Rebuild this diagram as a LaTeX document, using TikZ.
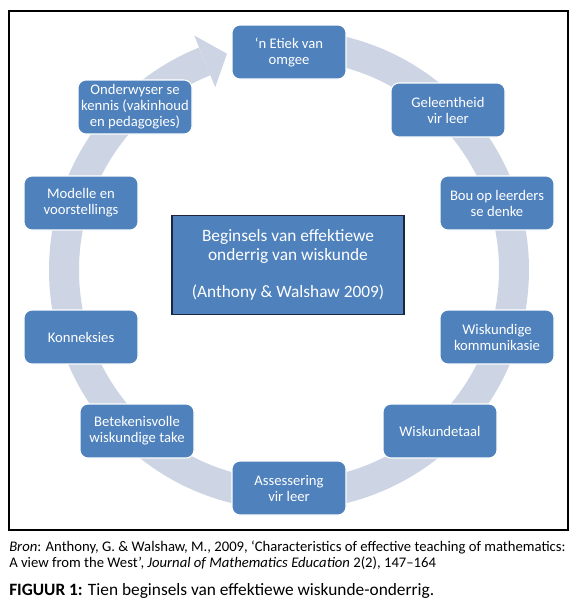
\documentclass[tikz,border=0pt]{standalone}
\usepackage{fontspec}
\setmainfont{Carlito}
\usetikzlibrary{calc}
\definecolor{boxblue}{RGB}{79,129,189}
\definecolor{ringgrey}{RGB}{205,213,228}
\definecolor{navy}{RGB}{28,38,64}
\tikzset{
  card/.style={draw=white, line width=0.8pt, rounded corners=6pt, fill=boxblue, text=white, minimum width=85.5pt, minimum height=40.5pt, align=center, inner sep=1pt, font=\fontsize{11}{12}\selectfont},
  core/.style={draw=navy, line width=1.1pt, fill=boxblue, text=white, minimum width=174pt, minimum height=74pt, align=center, font=\fontsize{13}{14}\selectfont},
  band/.style={line width=22.5pt, draw=ringgrey},
  note/.style={anchor=west, align=left, inner sep=0pt}
}

\begin{document}
\begin{tikzpicture}[x=0.75pt, y=-0.75pt]
  \useasboundingbox (0,0) rectangle (575,604);
  \draw[line width=1.1pt] (9,11) rectangle (568,530);

  % ring with arrow head
  \coordinate (c) at (289,270);
  \draw[band] ([shift={(-85:225)}]c) arc[start angle=-85, end angle=248, radius=225];
  \fill[ringgrey] ([shift={(248:197)}]c) -- ([shift={(254:225)}]c) -- ([shift={(248:253)}]c) -- cycle;

  \node[core] (mid) at (288,265) {Beginsels van effektiewe\\onderrig van wiskunde\\[14pt](Anthony \& Walshaw 2009)};

  \node[card] (a) at (289,52)  {‘n Etiek van\\omgee};
  \node[card] (b) at (448,110) {Geleentheid\\vir leer};
  \node[card] (c1) at (497,203) {Bou op leerders\\se denke};
  \node[card] (d) at (497,337) {Wiskundige\\kommunikasie};
  \node[card] (e) at (440,431) {Wiskundetaal};
  \node[card] (f) at (289,488) {Assessering\\vir leer};
  \node[card] (g) at (137,431) {Betekenisvolle\\wiskundige take};
  \node[card] (h) at (81,337)  {Konneksies};
  \node[card] (i) at (81,203)  {Modelle en\\voorstellings};
  \node[card] (j) at (135,107) {Onderwyser se\\kennis (vakinhoud\\en pedagogies)};

  \node[note, font=\fontsize{11}{12}\selectfont] (bron) at (9,555) {\textit{Bron}: Anthony, G. \& Walshaw, M., 2009, ‘Characteristics of effective teaching of mathematics:\\A view from the West’, \textit{Journal of Mathematics Education} 2(2), 147–164};
  \node[note, font=\fontsize{13}{14}\selectfont] (fig) at (9,591) {\textbf{FIGUUR 1:} Tien beginsels van effektiewe wiskunde-onderrig.};
\end{tikzpicture}
\end{document}
